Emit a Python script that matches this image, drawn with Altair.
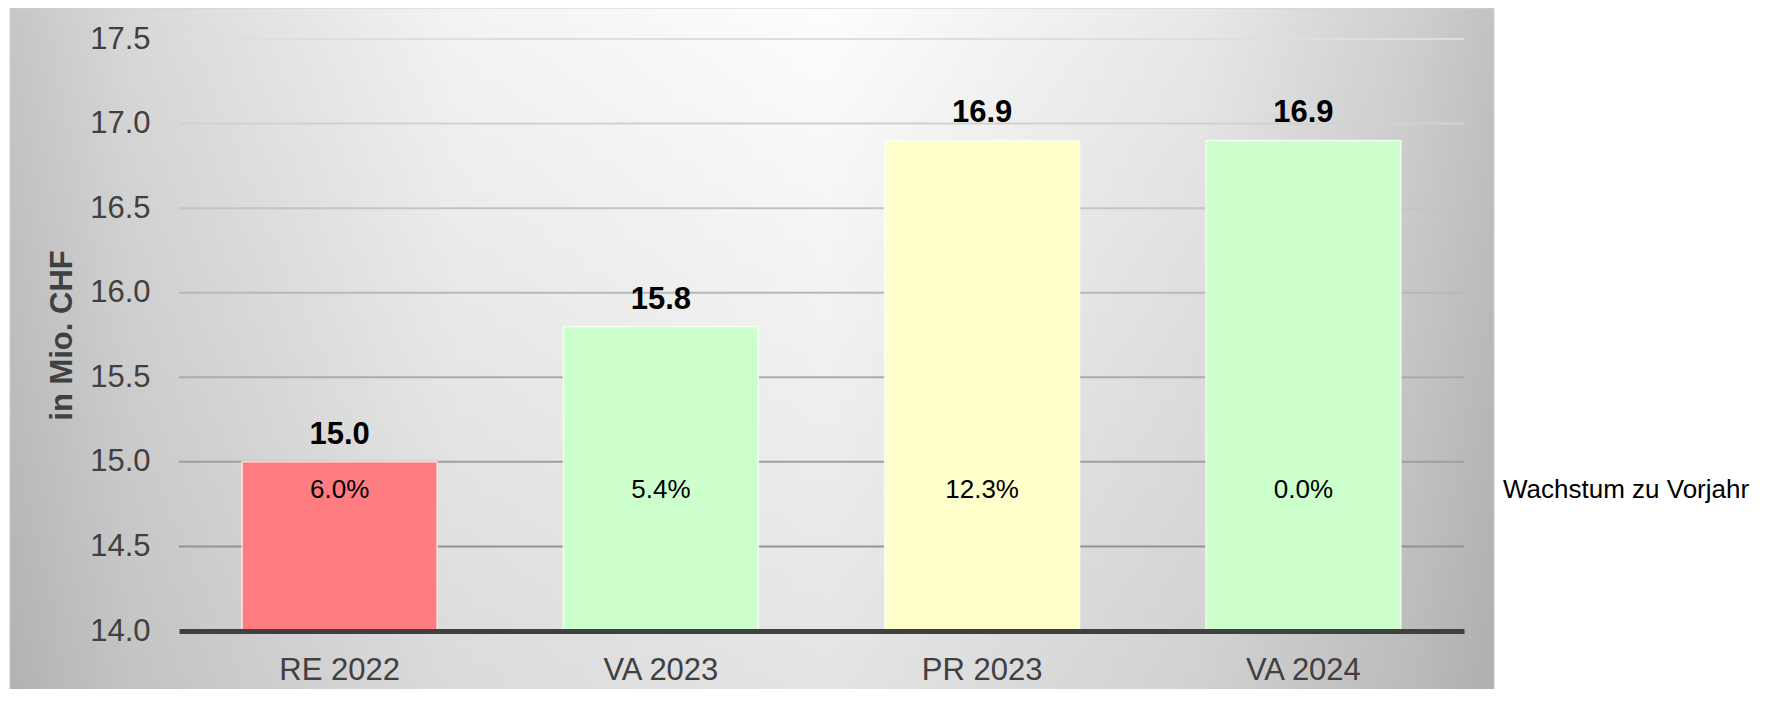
import altair as alt
import pandas as pd

# ---- data ----
categories = ["RE 2022", "VA 2023", "PR 2023", "VA 2024"]
values = [15.0, 15.8, 16.9, 16.9]
growth = [6.0, 5.4, 12.3, 0.0]
y_ticks = [14.0, 14.5, 15.0, 15.5, 16.0, 16.5, 17.0, 17.5]
y_title = "in Mio. CHF"
legend_label = "Wachstum zu Vorjahr"

# ---- styles ----
bar_colors = ["#FF7C80", "#CCFFCC", "#FFFFCC", "#CCFFCC"]
grid_colors = ["#939393", "#dedede"]
FONT = "Liberation Sans"
W, H = 1285, 592
GROWTH_LABEL_Y = 14.786

df = pd.DataFrame({"cat": categories, "value": values,
                   "glabel": [f"{g:.1f}%" for g in growth]})
grid_df = pd.DataFrame({"value": y_ticks[1:]})

yscale = alt.Scale(domain=[y_ticks[0], y_ticks[-1]], zero=False, nice=False)
xscale = alt.Scale(domain=categories, paddingInner=0.393, paddingOuter=0.1965)

xaxis = alt.Axis(labelFontSize=31, labelColor="#404040", labelFont=FONT, labelPadding=24,
                 ticks=False, tickSize=0, domain=True, domainColor="#404040", domainWidth=5,
                 grid=False, labelAngle=0, zindex=1)
yaxis = alt.Axis(values=y_ticks, format=".1f", grid=False, domain=False, ticks=False, tickSize=0,
                 labelFontSize=31, labelColor="#404040", labelFont=FONT, labelPadding=29,
                 titleFontSize=31, titleFontWeight="bold", titleColor="#404040", titleFont=FONT,
                 titleX=-117, titleY=H / 2, titleBaseline="middle", titleAlign="center", zindex=1)

base_grad = {
    "gradient": "linear", "x1": 0, "y1": 0, "x2": 1, "y2": 0,
    "stops": [
        {"offset": 0.0, "color": "#c6c6c6"},
        {"offset": 0.08, "color": "#d8d8d8"},
        {"offset": 0.3, "color": "#f3f3f3"},
        {"offset": 0.55, "color": "#fdfdfd"},
        {"offset": 0.8, "color": "#e8e8e8"},
        {"offset": 0.94, "color": "#d0d0d0"},
        {"offset": 1.0, "color": "#c2c2c2"},
    ],
}
shade_grad = {
    "gradient": "linear", "x1": 0, "y1": 0, "x2": 0, "y2": 1,
    "stops": [
        {"offset": 0.0, "color": "rgba(0,0,0,0)"},
        {"offset": 1.0, "color": "rgba(0,0,0,0.1)"},
    ],
}

one = pd.DataFrame({"k": [0]})
bg = alt.Chart(one).mark_rect(fill=base_grad, stroke="#d2d2d2", strokeWidth=1).encode(
    x=alt.value(-169), x2=alt.value(W + 30), y=alt.value(-31), y2=alt.value(H + 72))
shade = alt.Chart(one).mark_rect(fill=shade_grad).encode(
    x=alt.value(-169), x2=alt.value(W + 30), y=alt.value(-31), y2=alt.value(H + 72))

grid = alt.Chart(grid_df).mark_rule(strokeWidth=2).encode(
    y=alt.Y("value:Q", scale=yscale, axis=yaxis, title=y_title),
    stroke=alt.Stroke("value:Q", scale=alt.Scale(domain=[y_ticks[1], y_ticks[-1]], range=grid_colors),
                      legend=None),
)

bars = alt.Chart(df).mark_bar(stroke="white", strokeWidth=1.5, strokeOpacity=0.7).encode(
    x=alt.X("cat:N", scale=xscale, sort=categories, axis=xaxis, title=None),
    y=alt.Y("value:Q", scale=yscale, axis=yaxis, title=y_title),
    y2=alt.datum(y_ticks[0]),
    color=alt.Color("cat:N", scale=alt.Scale(domain=categories, range=bar_colors), legend=None),
)

vals = alt.Chart(df).mark_text(dy=-18, baseline="alphabetic", fontSize=31, fontWeight="bold",
                               font=FONT, color="black").encode(
    x=alt.X("cat:N", scale=xscale, sort=categories),
    y=alt.Y("value:Q", scale=yscale),
    text=alt.Text("value:Q", format=".1f"),
)

pct = alt.Chart(df).mark_text(baseline="alphabetic", fontSize=26, font=FONT, color="black").encode(
    x=alt.X("cat:N", scale=xscale, sort=categories),
    y=alt.datum(GROWTH_LABEL_Y),
    text="glabel:N",
)

legend = alt.Chart(pd.DataFrame({"label": [legend_label]})).mark_text(
    align="left", baseline="alphabetic", fontSize=26, font=FONT, color="black").encode(
    x=alt.value(W + 39), y=alt.datum(GROWTH_LABEL_Y), text="label:N")

chart = alt.layer(bg, shade, grid, bars, vals, pct, legend).properties(
    width=W, height=H,
    autosize=alt.AutoSizeParams(type="none"),
    padding={"left": 171, "top": 31, "right": 305, "bottom": 58},
).configure_view(stroke=None)

chart.save("out.html", embed_options={"renderer": "svg", "actions": False})
